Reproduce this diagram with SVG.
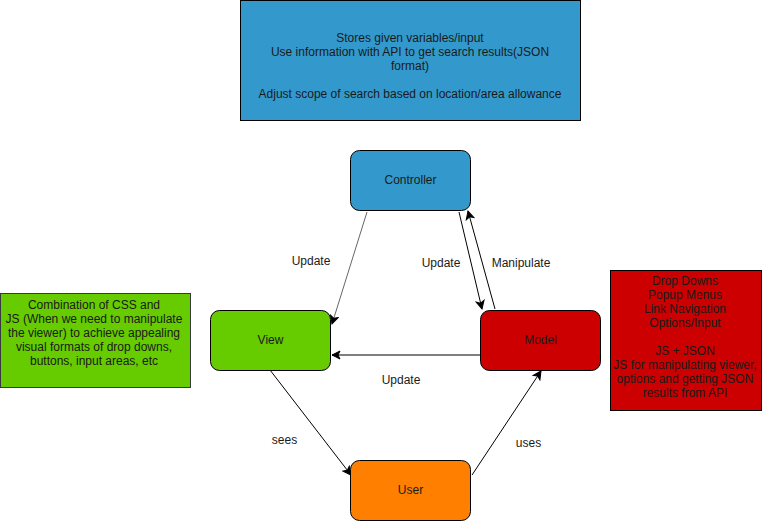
<svg xmlns="http://www.w3.org/2000/svg" width="762" height="522" viewBox="0 0 762 522">
<defs>
<style>
text{font-family:"Liberation Sans",Arial,Helvetica,sans-serif;font-size:12px;fill:#1a1a1a;text-anchor:middle}
.node{stroke:#000;stroke-width:1}
.edge{fill:none;stroke:#000;stroke-width:1}
</style>
<marker id="arr" markerUnits="userSpaceOnUse" markerWidth="10" markerHeight="10" viewBox="0 0 10 10" refX="9" refY="5" orient="auto">
<path d="M9,5 L1,1 L3,5 L1,9 Z" fill="#000" stroke="#000" stroke-width="1"/>
</marker>
</defs>
<rect width="762" height="522" fill="#fff"/>
<g id="connectors">
<path class="edge" d="M367,212 L332,324" style="stroke:#666" marker-end="url(#arr)"/>
<path class="edge" d="M459,212 L482,309" marker-end="url(#arr)"/>
<path class="edge" d="M495,309 L468,211" marker-end="url(#arr)"/>
<path class="edge" d="M480,355 L332,355" marker-end="url(#arr)"/>
<path class="edge" d="M270,370 L351,475" marker-end="url(#arr)"/>
<path class="edge" d="M472,475 L541,371" marker-end="url(#arr)"/>
<text x="311" y="265">Update</text>
<text x="441" y="267">Update</text>
<text x="521" y="267">Manipulate</text>
<text x="401" y="384">Update</text>
<text x="284.5" y="444">sees</text>
<text x="528.5" y="447">uses</text>
</g>
<g id="note-controller">
<rect class="node" x="240.5" y="0.5" width="340" height="120" fill="#3399cc"/>
<text x="410" y="42">Stores given variables/input</text>
<text x="410" y="56">Use information with API to get search results(JSON</text>
<text x="410" y="70">format)</text>
<text x="410" y="98">Adjust scope of search based on location/area allowance</text>
</g>
<g id="controller">
<rect class="node" x="350.5" y="150.5" width="120" height="60" rx="9" fill="#3399cc"/>
<text x="410.5" y="183.5">Controller</text>
</g>
<g id="view">
<rect class="node" x="210.5" y="310.5" width="120" height="60" rx="9" fill="#66cc00"/>
<text x="270.5" y="343.5">View</text>
</g>
<g id="model">
<rect class="node" x="480.5" y="310.5" width="120" height="60" rx="9" fill="#cc0000"/>
<text x="540.5" y="343.5">Model</text>
</g>
<g id="user">
<rect class="node" x="350.5" y="460.5" width="120" height="60" rx="9" fill="#ff8000"/>
<text x="410.5" y="493.5">User</text>
</g>
<g id="note-view">
<rect x="0.5" y="293.5" width="190" height="94" fill="#66cc00" stroke="#36393d"/>
<text x="94" y="309">Combination of CSS and</text>
<text x="94" y="323">JS (When we need to manipulate</text>
<text x="94" y="337">the viewer) to achieve appealing</text>
<text x="94" y="351">visual formats of drop downs,</text>
<text x="94" y="365">buttons, input areas, etc</text>
</g>
<g id="note-model">
<rect class="node" x="610.5" y="270.5" width="151" height="140" fill="#cc0000"/>
<text x="685" y="285">Drop Downs</text>
<text x="685" y="299">Popup Menus</text>
<text x="685" y="313">Link Navigation</text>
<text x="685" y="327">Options/Input</text>
<text x="685" y="355">JS + JSON</text>
<text x="685" y="369">JS for manipulating viewer,</text>
<text x="685" y="383">options and getting JSON</text>
<text x="685" y="397">results from API</text>
</g>
</svg>
